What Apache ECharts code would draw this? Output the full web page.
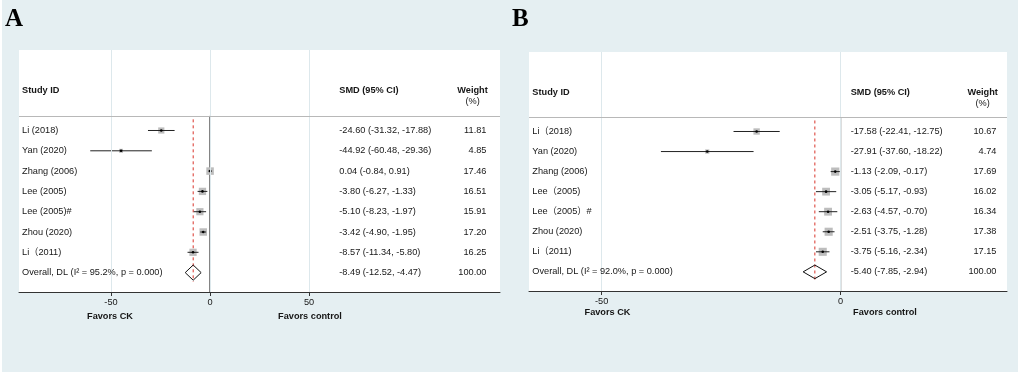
<!DOCTYPE html>
<html>
<head>
<meta charset="utf-8">
<script src="https://cdn.jsdelivr.net/npm/echarts@6/dist/echarts.min.js"></script>
<style>
    html, body { margin: 0; padding: 0; background: #fff; }
    #chart { width: 1024px; height: 375px; }
</style>
</head>
<body>
<div id="chart"></div>
<script>
// 森林图数据 (A / B 两个面板)
const studiesA = ['Li (2018)', 'Yan (2020)', 'Zhang (2006)', 'Lee (2005)', 'Lee (2005)#', 'Zhou (2020)', 'Li\uFF082011)'];
const smdA = [-24.60, -44.92, 0.04, -3.80, -5.10, -3.42, -8.57];
const lowA = [-31.32, -60.48, -0.84, -6.27, -8.23, -4.90, -11.34];
const highA = [-17.88, -29.36, 0.91, -1.33, -1.97, -1.95, -5.80];
const weightA = [11.81, 4.85, 17.46, 16.51, 15.91, 17.20, 16.25];
const overallA = [-8.49, -12.52, -4.47];
const i2A = '95.2%';

const studiesB = ['Li\uFF082018)', 'Yan (2020)', 'Zhang (2006)', 'Lee\uFF082005)', 'Lee\uFF082005\uFF09#', 'Zhou (2020)', 'Li\uFF082011)'];
const smdB = [-17.58, -27.91, -1.13, -3.05, -2.63, -2.51, -3.75];
const lowB = [-22.41, -37.60, -2.09, -5.17, -4.57, -3.75, -5.16];
const highB = [-12.75, -18.22, -0.17, -0.93, -0.70, -1.28, -2.34];
const weightB = [10.67, 4.74, 17.69, 16.02, 16.34, 17.38, 17.15];
const overallB = [-5.40, -7.85, -2.94];
const i2B = '92.0%';

const ticksA = [-50, 0, 50];
const ticksB = [-50, 0];

// 版式常量
const FONT = "'Liberation Sans', Arial, 'Noto Sans CJK SC', sans-serif";
const FS = 9.2;
const TXT = '#161616';
const Y_MIN = -2.965;
const Y_MAX = 8.955;
const SEP_Y = 0.28;

const panels = [{
    grid: { left: 19, right: 524, top: 50, bottom: 83 },
    xMin: -96.46, xMax: 146.46, ticks: ticksA,
    labelX: -94.9, smdX: 65.3, wRightX: 139.6, wHeadX: 132.6,
    sq: 1.8, dia: 7.6,
    studies: studiesA, smd: smdA, low: lowA, high: highA, weight: weightA,
    overall: overallA, i2: i2A
}, {
    grid: { left: 529, right: 17, top: 52, bottom: 84 },
    xMin: -65.2, xMax: 34.8, ticks: ticksB,
    labelX: -64.5, smdX: 2.1, wRightX: 32.6, wHeadX: 29.7,
    sq: 1.95, dia: 6.8,
    studies: studiesB, smd: smdB, low: lowB, high: highB, weight: weightB,
    overall: overallB, i2: i2B
}];

function fmt(v) {
    return v.toFixed(2);
}

function textStyle(text, align, bold) {
    return {
        text: text,
        fill: TXT,
        fontSize: FS,
        fontFamily: FONT,
        fontWeight: bold ? 'bold' : 'normal',
        align: align,
        verticalAlign: 'middle'
    };
}

// 每个面板的文字项
function buildTexts(p) {
    let items = [];
    items.push({ x: p.labelX, y: -0.95, text: 'Study ID', align: 'left', bold: true });
    items.push({ x: p.smdX, y: -0.95, text: 'SMD (95% CI)', align: 'left', bold: true });
    items.push({ x: p.wHeadX, y: -0.95, text: 'Weight', align: 'center', bold: true });
    items.push({ x: p.wHeadX, y: -0.42, text: '(%)', align: 'center', bold: false });
    for (let i = 0; i < p.studies.length; i++) {
        let row = i + 1;
        items.push({ x: p.labelX, y: row, text: p.studies[i], align: 'left' });
        items.push({ x: p.smdX, y: row, text: fmt(p.smd[i]) + ' (' + fmt(p.low[i]) + ', ' + fmt(p.high[i]) + ')', align: 'left' });
        items.push({ x: p.wRightX, y: row, text: fmt(p.weight[i]), align: 'right' });
    }
    let ro = p.studies.length + 1;
    items.push({ x: p.labelX, y: ro, text: 'Overall, DL (I\u00B2 = ' + p.i2 + ', p = 0.000)', align: 'left' });
    items.push({ x: p.smdX, y: ro, text: fmt(p.overall[0]) + ' (' + fmt(p.overall[1]) + ', ' + fmt(p.overall[2]) + ')', align: 'left' });
    items.push({ x: p.wRightX, y: ro, text: '100.00', align: 'right' });
    return items;
}

let grids = [], xAxes = [], yAxes = [], series = [];

panels.forEach(function (p, idx) {
    grids.push({
        left: p.grid.left, right: p.grid.right, top: p.grid.top, bottom: p.grid.bottom,
        show: true, backgroundColor: '#ffffff', borderWidth: 0
    });
    xAxes.push({
        gridIndex: idx, type: 'value', min: p.xMin, max: p.xMax, position: 'bottom',
        axisLine: { show: true, onZero: false, lineStyle: { color: '#333', width: 1 } },
        axisTick: { show: true, length: 4, customValues: p.ticks, lineStyle: { color: '#333' } },
        axisLabel: { customValues: p.ticks, margin: 6, fontSize: FS, fontFamily: FONT, color: TXT },
        splitLine: { show: false }
    });
    yAxes.push({ gridIndex: idx, type: 'value', inverse: true, min: Y_MIN, max: Y_MAX, show: false });

    // 浅色竖向网格线 + 表头分隔线
    series.push({
        type: 'line', xAxisIndex: idx, yAxisIndex: idx, data: [], silent: true, z: 1,
        markLine: {
            silent: true, symbol: 'none', label: { show: false }, animation: false,
            lineStyle: { color: '#dde8ec', type: 'solid', width: 1 },
            data: p.ticks.map(function (t) { return { xAxis: t }; })
        }
    });
    series.push({
        type: 'line', xAxisIndex: idx, yAxisIndex: idx, data: [], silent: true, z: 2,
        markLine: {
            silent: true, symbol: 'none', label: { show: false }, animation: false,
            lineStyle: { color: '#b8b8b8', type: 'solid', width: 1 },
            data: [{ yAxis: SEP_Y }]
        }
    });
    // 零线
    series.push({
        type: 'line', xAxisIndex: idx, yAxisIndex: idx, silent: true, z: 3,
        symbol: 'none', lineStyle: { color: '#111', width: 1 },
        data: [[0, SEP_Y], [0, Y_MAX]]
    });
    // 合并效应虚线
    series.push({
        type: 'line', xAxisIndex: idx, yAxisIndex: idx, silent: true, z: 3,
        symbol: 'none', lineStyle: { color: '#d9342b', width: 1, type: [3, 3] },
        data: [[p.overall[0], 0.45], [p.overall[0], 8.45]]
    });

    // 方块 + 置信区间 + 菱形
    let forestData = [];
    for (let i = 0; i < p.studies.length; i++) {
        forestData.push([p.smd[i], i + 1, p.low[i], p.high[i], p.weight[i], 0]);
    }
    forestData.push([p.overall[0], p.studies.length + 1, p.overall[1], p.overall[2], 100, 1]);

    series.push({
        type: 'custom', xAxisIndex: idx, yAxisIndex: idx, silent: true, z: 4,
        data: forestData,
        renderItem: function (params, api) {
            let y = api.value(1);
            let c = api.coord([api.value(0), y]);
            let l = api.coord([api.value(2), y]);
            let h = api.coord([api.value(3), y]);
            if (api.value(5) === 1) {
                return {
                    type: 'polygon',
                    shape: { points: [[l[0], c[1]], [c[0], c[1] - p.dia], [h[0], c[1]], [c[0], c[1] + p.dia]] },
                    style: { fill: 'rgba(0,0,0,0)', stroke: '#111', lineWidth: 1 }
                };
            }
            let s = p.sq * Math.sqrt(api.value(4));
            return {
                type: 'group',
                children: [{
                    type: 'rect',
                    shape: { x: c[0] - s / 2, y: c[1] - s / 2, width: s, height: s },
                    style: { fill: '#bdbdbd' }
                }, {
                    type: 'line',
                    shape: { x1: l[0], y1: c[1], x2: h[0], y2: c[1] },
                    style: { stroke: '#222', lineWidth: 1 }
                }, {
                    type: 'circle',
                    shape: { cx: c[0], cy: c[1], r: 1.3 },
                    style: { fill: '#000' }
                }]
            };
        }
    });

    // 文字列
    let texts = buildTexts(p);
    series.push({
        type: 'custom', xAxisIndex: idx, yAxisIndex: idx, silent: true, z: 5,
        data: texts.map(function (t) { return [t.x, t.y]; }),
        renderItem: function (params, api) {
            let t = texts[params.dataIndex];
            let pt = api.coord([api.value(0), api.value(1)]);
            return {
                type: 'text', x: pt[0], y: pt[1],
                style: textStyle(t.text, t.align, t.bold)
            };
        }
    });
});

function favor(text, x, y) {
    return {
        type: 'text', x: x, y: y, z: 10,
        style: textStyle(text, 'center', true)
    };
}

function letter(text, x) {
    return {
        type: 'text', x: x, y: 20, z: 10,
        style: { text: text, fill: '#000', fontSize: 25, fontWeight: 'bold', fontFamily: "'Liberation Serif', 'Times New Roman', serif", align: 'left', verticalAlign: 'middle' }
    };
}

const option = {
    animation: false,
    backgroundColor: '#ffffff',
    graphic: [{
        type: 'rect', z: -10, shape: { x: 2, y: 0, width: 1016, height: 372 },
        style: { fill: '#e5eff2' }
    },
        letter('A', 5),
        letter('B', 512),
        favor('Favors CK', 110, 316),
        favor('Favors control', 310, 316),
        favor('Favors CK', 607.5, 312),
        favor('Favors control', 885, 312)
    ],
    grid: grids,
    xAxis: xAxes,
    yAxis: yAxes,
    series: series
};

const chart = echarts.init(document.getElementById('chart'));
chart.setOption(option);
</script>
</body>
</html>
